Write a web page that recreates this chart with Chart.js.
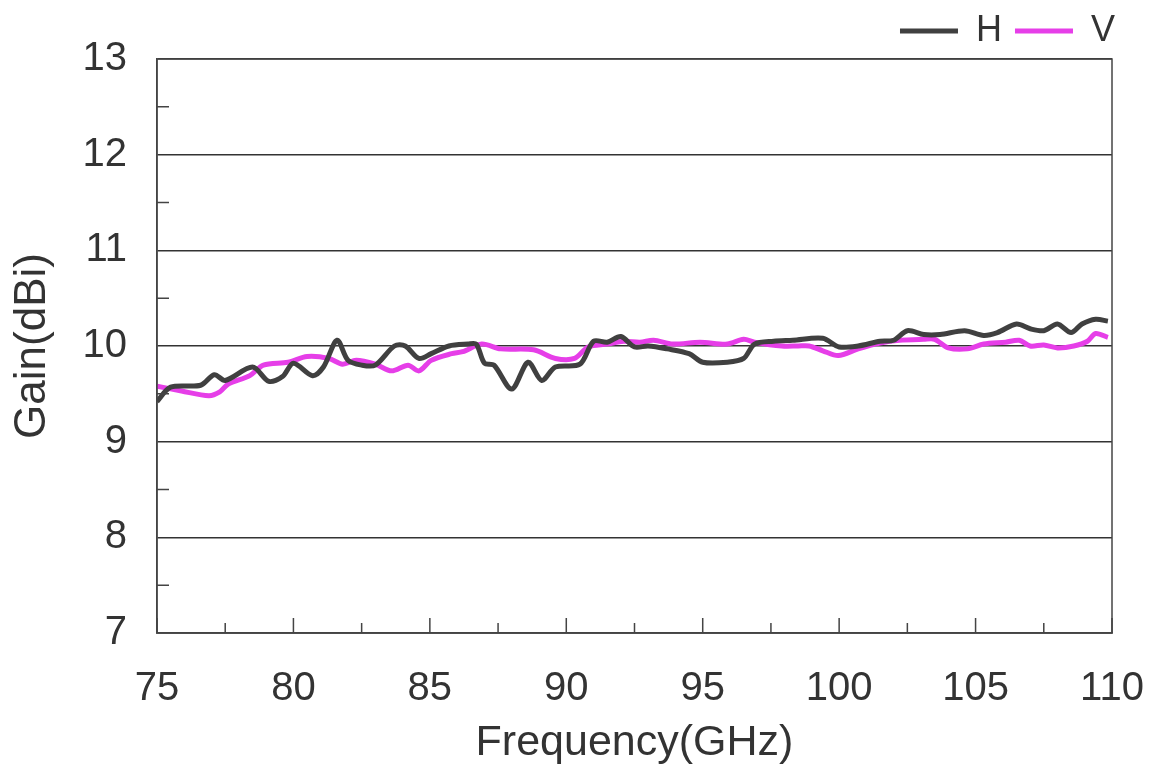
<!DOCTYPE html>
<html>
<head>
<meta charset="utf-8">
<title>Gain vs Frequency</title>
<script src="https://cdn.jsdelivr.net/npm/chart.js@4.4.1/dist/chart.umd.min.js"></script>
<style>
  html, body { margin: 0; padding: 0; background: #fff; }
  #wrap { width: 1150px; height: 769px; }
</style>
</head>
<body>
<div id="wrap"><canvas id="myChart" width="1150" height="769"></canvas></div>
<script>
// Datos (frecuencia en GHz, ganancia en dBi)
const freqH = [75.0, 75.5, 76.6, 77.1, 77.5, 78.5, 79.1, 79.6, 80.0, 80.7, 81.1, 81.6, 82.0, 82.5, 83.0, 83.7, 84.1, 84.6, 85.05, 85.7, 86.4, 86.7, 87.0, 87.35, 88.0, 88.6, 89.1, 89.6, 90.5, 91.0, 91.5, 92.0, 92.5, 93.0, 93.7, 94.5, 95.0, 95.9, 96.5, 96.9, 97.6, 98.3, 99.4, 100.0, 100.7, 101.5, 102.0, 102.5, 103.1, 103.7, 104.6, 105.3, 105.8, 106.5, 107.0, 107.5, 108.0, 108.5, 108.9, 109.4, 109.85];
const gainH = [9.42, 9.57, 9.59, 9.70, 9.64, 9.78, 9.63, 9.68, 9.82, 9.69, 9.78, 10.06, 9.85, 9.80, 9.80, 10.00, 10.00, 9.87, 9.92, 10.00, 10.02, 10.02, 9.82, 9.80, 9.55, 9.83, 9.64, 9.78, 9.81, 10.05, 10.04, 10.10, 9.99, 10.00, 9.97, 9.92, 9.83, 9.83, 9.87, 10.02, 10.05, 10.06, 10.08, 9.99, 10.00, 10.05, 10.06, 10.16, 10.12, 10.12, 10.16, 10.11, 10.14, 10.23, 10.18, 10.16, 10.23, 10.14, 10.23, 10.28, 10.26];

const freqV = [75.0, 75.9, 76.9, 77.3, 77.6, 78.4, 78.9, 79.8, 80.5, 81.3, 81.8, 82.3, 83.0, 83.6, 84.2, 84.6, 85.05, 85.8, 86.2, 86.9, 87.6, 88.8, 89.6, 90.3, 90.8, 91.5, 92.1, 92.7, 93.2, 93.9, 94.9, 95.9, 96.5, 96.9, 97.9, 98.5, 98.9, 99.4, 99.97, 100.7, 101.5, 102.2, 103.1, 103.5, 104.0, 104.7, 105.3, 106.1, 106.6, 107.0, 107.5, 108.0, 108.6, 109.1, 109.4, 109.85];
const gainV = [9.58, 9.53, 9.48, 9.52, 9.60, 9.69, 9.80, 9.83, 9.89, 9.87, 9.81, 9.85, 9.81, 9.74, 9.80, 9.74, 9.85, 9.92, 9.94, 10.02, 9.97, 9.96, 9.87, 9.87, 9.99, 10.02, 10.05, 10.04, 10.06, 10.02, 10.04, 10.02, 10.07, 10.04, 10.00, 10.00, 10.00, 9.95, 9.90, 9.97, 10.03, 10.06, 10.07, 10.07, 9.98, 9.97, 10.02, 10.04, 10.06, 10.00, 10.01, 9.98, 10.00, 10.05, 10.13, 10.09];

const seriesNames = ["H", "V"];
const xTickLabels = [75, 80, 85, 90, 95, 100, 105, 110];
const yTickLabels = [7, 8, 9, 10, 11, 12, 13];

const FONT = "'Liberation Sans', Arial, sans-serif";
const TEXT_COLOR = "#333";

// Marco del área y marcas hacia adentro (como en el original)
const framePlugin = {
    id: "frame",
    afterDraw(chart) {
        const { ctx, chartArea: a, scales } = chart;
        ctx.save();
        ctx.strokeStyle = "#444";
        ctx.lineWidth = 1.5;
        ctx.strokeRect(a.left, a.top, a.right - a.left, a.bottom - a.top);

        // marcas del eje X cada 2.5 GHz
        ctx.beginPath();
        for (let f = 75; f <= 110; f += 2.5) {
            const px = scales.x.getPixelForValue(f);
            const len = f % 5 === 0 ? 15 : 10;
            ctx.moveTo(px, a.bottom);
            ctx.lineTo(px, a.bottom - len);
        }
        // marcas menores del eje Y cada 0.5
        for (let g = 7.5; g < 13; g += 1) {
            const py = scales.y.getPixelForValue(g);
            ctx.moveTo(a.left, py);
            ctx.lineTo(a.left + 12, py);
        }
        ctx.stroke();
        ctx.restore();
    }
};

const ctx = document.getElementById("myChart").getContext("2d");
const chart = new Chart(ctx, {
    type: "line",
    data: {
        datasets: [
            {
                label: seriesNames[0],
                data: freqH.map((f, i) => ({ x: f, y: gainH[i] })),
                borderColor: "#404040",
                backgroundColor: "#404040",
                borderWidth: 5,
                pointRadius: 0,
                tension: 0.3
            },
            {
                label: seriesNames[1],
                data: freqV.map((f, i) => ({ x: f, y: gainV[i] })),
                borderColor: "#e63ee8",
                backgroundColor: "#e63ee8",
                borderWidth: 5,
                pointRadius: 0,
                tension: 0.3
            }
        ]
    },
    options: {
        responsive: false,
        animation: false,
        layout: { padding: { top: 0, right: 22, bottom: 0, left: 0 } },
        plugins: {
            tooltip: { enabled: false },
            legend: {
                display: true,
                position: "top",
                align: "end",
                labels: {
                    usePointStyle: true,
                    pointStyle: "line",
                    pointStyleWidth: 58,
                    color: TEXT_COLOR,
                    font: { family: FONT, size: 36 },
                    padding: 13
                }
            }
        },
        scales: {
            x: {
                type: "linear",
                min: 75,
                max: 110,
                afterBuildTicks: scale => {
                    scale.ticks = xTickLabels.map(v => ({ value: v }));
                },
                afterFit: scale => {
                    scale.height = 136;
                    scale.paddingRight = 38;
                    scale.paddingLeft = 0;
                },
                grid: { display: false, drawTicks: false },
                border: { display: true, color: "#444", width: 1.5 },
                ticks: {
                    color: TEXT_COLOR,
                    font: { family: FONT, size: 40 },
                    padding: 32,
                    maxRotation: 0,
                    autoSkip: false
                },
                title: {
                    display: true,
                    text: "Frequency(GHz)",
                    color: TEXT_COLOR,
                    font: { family: FONT, size: 43 },
                    padding: { top: 0, bottom: 0 }
                }
            },
            y: {
                min: 7,
                max: 13,
                afterBuildTicks: scale => {
                    scale.ticks = yTickLabels.map(v => ({ value: v }));
                },
                afterFit: scale => { scale.width = 157; },
                grid: { color: "#333", lineWidth: 1.5, drawTicks: false },
                border: { display: true, color: "#444", width: 1.5 },
                ticks: {
                    color: TEXT_COLOR,
                    font: { family: FONT, size: 40 },
                    padding: 30
                },
                title: {
                    display: true,
                    text: "Gain(dBi)",
                    color: TEXT_COLOR,
                    font: { family: FONT, size: 44 },
                    padding: { top: 6, bottom: 0 }
                }
            }
        }
    },
    plugins: [framePlugin]
});
</script>
</body>
</html>
